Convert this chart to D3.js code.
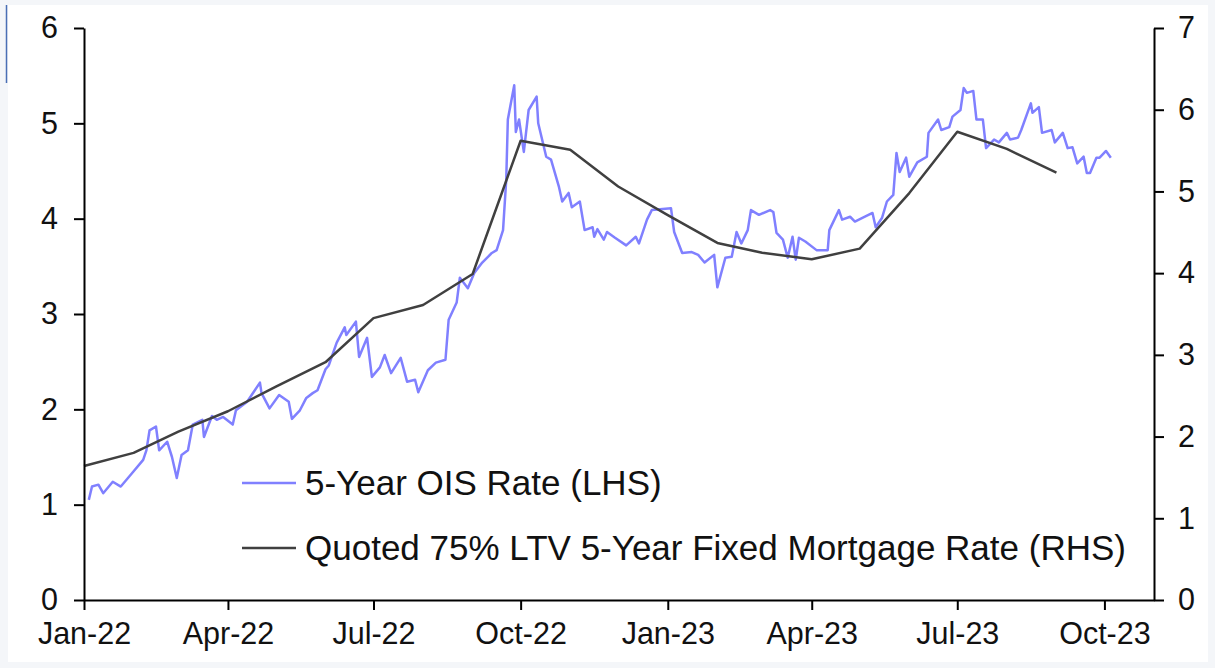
<!DOCTYPE html>
<html>
<head>
<meta charset="utf-8">
<script src="https://cdn.jsdelivr.net/npm/d3@7"></script>
<style>
  html, body { margin: 0; padding: 0; background: #f4f6f9; }
  svg { display: block; }
  text { font-family: 'Liberation Sans', Arial, sans-serif; fill: #111; }
</style>
</head>
<body>
<svg width="1215" height="668"></svg>
<script>
// 5-year OIS rate (LHS), every few trading days
const oisSeries = [
  ['2022-01-04', 1.05], ['2022-01-06', 1.19], ['2022-01-10', 1.21], ['2022-01-13', 1.12],
  ['2022-01-19', 1.24], ['2022-01-24', 1.19], ['2022-01-31', 1.33], ['2022-02-07', 1.47],
  ['2022-02-09', 1.57], ['2022-02-11', 1.78], ['2022-02-15', 1.82], ['2022-02-17', 1.57],
  ['2022-02-22', 1.66], ['2022-02-25', 1.50], ['2022-02-28', 1.28], ['2022-03-03', 1.52],
  ['2022-03-07', 1.57], ['2022-03-10', 1.84], ['2022-03-16', 1.89], ['2022-03-17', 1.71],
  ['2022-03-22', 1.93], ['2022-03-25', 1.89], ['2022-03-29', 1.92], ['2022-04-04', 1.84],
  ['2022-04-06', 1.99], ['2022-04-13', 2.08], ['2022-04-21', 2.28], ['2022-04-22', 2.17],
  ['2022-04-27', 2.01], ['2022-05-03', 2.15], ['2022-05-09', 2.08], ['2022-05-11', 1.90],
  ['2022-05-16', 1.99], ['2022-05-20', 2.12], ['2022-05-24', 2.17], ['2022-05-27', 2.20],
  ['2022-06-01', 2.42], ['2022-06-03', 2.46], ['2022-06-08', 2.70], ['2022-06-13', 2.86],
  ['2022-06-14', 2.78], ['2022-06-20', 2.92], ['2022-06-22', 2.55], ['2022-06-27', 2.75],
  ['2022-06-30', 2.34], ['2022-07-05', 2.44], ['2022-07-08', 2.57], ['2022-07-12', 2.38],
  ['2022-07-18', 2.54], ['2022-07-22', 2.29], ['2022-07-27', 2.31], ['2022-07-29', 2.18],
  ['2022-08-04', 2.41], ['2022-08-09', 2.49], ['2022-08-15', 2.52], ['2022-08-17', 2.94],
  ['2022-08-22', 3.12], ['2022-08-24', 3.38], ['2022-08-29', 3.27], ['2022-09-02', 3.43],
  ['2022-09-07', 3.54], ['2022-09-13', 3.64], ['2022-09-16', 3.67], ['2022-09-20', 3.88],
  ['2022-09-22', 4.41], ['2022-09-23', 5.04], ['2022-09-27', 5.40], ['2022-09-28', 4.91],
  ['2022-09-30', 5.04], ['2022-10-03', 4.70], ['2022-10-06', 5.14], ['2022-10-11', 5.28],
  ['2022-10-12', 5.00], ['2022-10-17', 4.65], ['2022-10-20', 4.62], ['2022-10-25', 4.33],
  ['2022-10-27', 4.18], ['2022-10-31', 4.27], ['2022-11-02', 4.12], ['2022-11-07', 4.18],
  ['2022-11-10', 3.88], ['2022-11-15', 3.91], ['2022-11-16', 3.81], ['2022-11-18', 3.89],
  ['2022-11-22', 3.78], ['2022-11-24', 3.86], ['2022-11-29', 3.80], ['2022-12-06', 3.72],
  ['2022-12-12', 3.81], ['2022-12-14', 3.74], ['2022-12-19', 3.99], ['2022-12-22', 4.09],
  ['2023-01-03', 4.11], ['2023-01-05', 3.86], ['2023-01-10', 3.64], ['2023-01-16', 3.65],
  ['2023-01-20', 3.62], ['2023-01-24', 3.54], ['2023-01-30', 3.62], ['2023-02-01', 3.28],
  ['2023-02-06', 3.59], ['2023-02-10', 3.60], ['2023-02-13', 3.86], ['2023-02-16', 3.74],
  ['2023-02-20', 3.88], ['2023-02-22', 4.09], ['2023-02-27', 4.04], ['2023-03-06', 4.09],
  ['2023-03-08', 4.07], ['2023-03-10', 3.85], ['2023-03-14', 3.78], ['2023-03-17', 3.59],
  ['2023-03-20', 3.81], ['2023-03-22', 3.57], ['2023-03-24', 3.80], ['2023-03-28', 3.76],
  ['2023-04-04', 3.67], ['2023-04-11', 3.67], ['2023-04-12', 3.88], ['2023-04-18', 4.09],
  ['2023-04-20', 3.99], ['2023-04-25', 4.02], ['2023-04-28', 3.97], ['2023-05-03', 4.01],
  ['2023-05-09', 4.06], ['2023-05-11', 3.91], ['2023-05-15', 4.01], ['2023-05-18', 4.18],
  ['2023-05-22', 4.25], ['2023-05-24', 4.69], ['2023-05-26', 4.49], ['2023-05-30', 4.64],
  ['2023-06-01', 4.44], ['2023-06-06', 4.59], ['2023-06-12', 4.65], ['2023-06-13', 4.90],
  ['2023-06-19', 5.04], ['2023-06-21', 4.93], ['2023-06-26', 4.96], ['2023-06-28', 5.07],
  ['2023-07-03', 5.14], ['2023-07-05', 5.37], ['2023-07-07', 5.32], ['2023-07-11', 5.34],
  ['2023-07-13', 5.04], ['2023-07-17', 5.04], ['2023-07-19', 4.74], ['2023-07-24', 4.83],
  ['2023-07-27', 4.80], ['2023-08-01', 4.90], ['2023-08-03', 4.83], ['2023-08-08', 4.85],
  ['2023-08-10', 4.93], ['2023-08-16', 5.21], ['2023-08-17', 5.11], ['2023-08-21', 5.17],
  ['2023-08-23', 4.90], ['2023-08-29', 4.93], ['2023-08-31', 4.80], ['2023-09-05', 4.90],
  ['2023-09-08', 4.74], ['2023-09-11', 4.75], ['2023-09-14', 4.58], ['2023-09-18', 4.65],
  ['2023-09-20', 4.48], ['2023-09-22', 4.48], ['2023-09-26', 4.64], ['2023-09-28', 4.64],
  ['2023-10-02', 4.71], ['2023-10-05', 4.64]
]

// Quoted 75% LTV 5-year fixed mortgage rate (RHS), monthly
const mortgageMonths = [
  '2022-01-01', '2022-02-01', '2022-03-01', '2022-04-01', '2022-05-01', '2022-06-01',
  '2022-07-01', '2022-08-01', '2022-09-01', '2022-10-01', '2022-11-01', '2022-12-01',
  '2023-01-01', '2023-02-01', '2023-03-01', '2023-04-01', '2023-05-01', '2023-06-01',
  '2023-07-01', '2023-08-01', '2023-09-01'
]
const mortgageRates = [
  1.64, 1.80, 2.06, 2.31, 2.61, 2.91,
  3.45, 3.61, 3.99, 5.62, 5.51, 5.06,
  4.71, 4.37, 4.25, 4.17, 4.30, 4.98,
  5.73, 5.52, 5.23
]

const leftTicks = [0, 1, 2, 3, 4, 5, 6]
const rightTicks = [0, 1, 2, 3, 4, 5, 6, 7]
const xTickDates = ['2022-01-01', '2022-04-01', '2022-07-01', '2022-10-01',
  '2023-01-01', '2023-04-01', '2023-07-01', '2023-10-01']
const legendLabels = ['5-Year OIS Rate (LHS)', 'Quoted 75% LTV 5-Year Fixed Mortgage Rate (RHS)']

var svg = d3.select('svg')
const parseDate = d3.timeParse('%Y-%m-%d')

var plot = {left: 84, right: 1154, top: 28, bottom: 600}

// screenshot frame
svg.append('rect')
    .attr('x', 8).attr('y', 5)
    .attr('width', 1200).attr('height', 657)
    .attr('fill', '#fff')
svg.append('line')
    .attr('x1', 6.5).attr('x2', 6.5)
    .attr('y1', 5).attr('y2', 83)
    .attr('stroke', '#4a6fb5')
    .attr('stroke-width', 1.5)

var x = d3.scaleTime()
    .domain([parseDate('2022-01-01'), parseDate('2023-11-01')])
    .range([plot.left, plot.right])
var yL = d3.scaleLinear().domain([0, 6]).range([plot.bottom, plot.top])
var yR = d3.scaleLinear().domain([0, 7]).range([plot.bottom, plot.top])

var ois = oisSeries.map(d => ({date: parseDate(d[0]), value: d[1]}))
var mortgage = mortgageMonths.map((m, i) => ({date: parseDate(m), value: mortgageRates[i]}))

var lineL = d3.line().x(d => x(d.date)).y(d => yL(d.value))
var lineR = d3.line().x(d => x(d.date)).y(d => yR(d.value))

svg.append('path')
    .datum(ois)
    .attr('fill', 'none')
    .attr('stroke', '#8080ff')
    .attr('stroke-width', 2.5)
    .attr('stroke-linejoin', 'round')
    .attr('d', lineL)

svg.append('path')
    .datum(mortgage)
    .attr('fill', 'none')
    .attr('stroke', '#404040')
    .attr('stroke-width', 2.5)
    .attr('stroke-linejoin', 'round')
    .attr('d', lineR)

// axes
function styleAxis (g, size) {
  g.selectAll('path.domain').attr('stroke', '#000').attr('stroke-width', 2)
  g.selectAll('.tick line').attr('stroke', '#000').attr('stroke-width', 2)
  g.selectAll('.tick text')
      .style('font-family', "'Liberation Sans', Arial, sans-serif")
      .style('font-size', size + 'px')
      .attr('fill', '#111')
}

svg.append('g')
    .attr('transform', 'translate(0,' + plot.bottom + ')')
    .call(d3.axisBottom(x)
      .tickValues(xTickDates.map(parseDate))
      .tickFormat(d3.timeFormat('%b-%y'))
      .tickSize(10).tickSizeOuter(0).tickPadding(12))
    .call(g => styleAxis(g, 30.5))

svg.append('g')
    .attr('transform', 'translate(' + plot.left + ',0)')
    .call(d3.axisLeft(yL).tickValues(leftTicks).tickFormat(d3.format('d'))
      .tickSize(10).tickSizeOuter(0).tickPadding(16))
    .call(g => styleAxis(g, 30.5))

svg.append('g')
    .attr('transform', 'translate(' + plot.right + ',0)')
    .call(d3.axisRight(yR).tickValues(rightTicks).tickFormat(d3.format('d'))
      .tickSize(10).tickSizeOuter(0).tickPadding(14))
    .call(g => styleAxis(g, 30.5))

// legend
var legendColors = ['#8080ff', '#404040']
var legend = svg.append('g')
legendLabels.forEach((label, i) => {
  var ly = 483 + i * 65
  legend.append('line')
      .attr('x1', 242).attr('x2', 296)
      .attr('y1', ly).attr('y2', ly)
      .attr('stroke', legendColors[i])
      .attr('stroke-width', 2.5)
  legend.append('text')
      .attr('x', 305)
      .attr('y', ly)
      .attr('dy', '0.35em')
      .style('font-size', '35px')
      .text(label)
})
</script>
</body>
</html>
